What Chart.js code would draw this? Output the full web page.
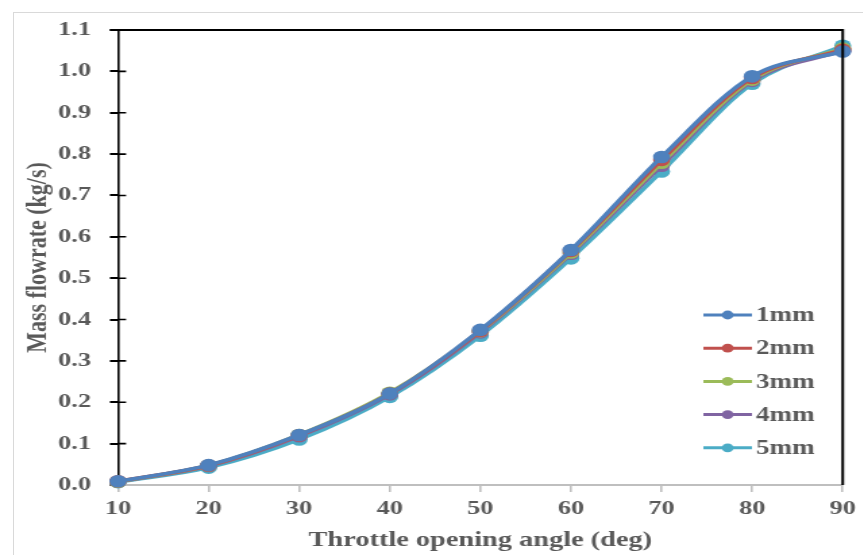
<!DOCTYPE html>
<html><head><meta charset="utf-8">
<script src="https://cdn.jsdelivr.net/npm/chart.js@4/dist/chart.umd.min.js"></script>
<style>
html,body{margin:0;padding:0;background:#fff;}
#wrap{position:relative;width:863px;height:555px;overflow:hidden;}
#frame{position:absolute;left:13px;top:12px;width:870px;height:600px;border:1.5px solid #d9d9d9;box-sizing:border-box;}
#stretch{position:absolute;left:0;top:0;width:639px;height:555px;transform:scaleX(1.35);transform-origin:0 0;}
</style></head>
<body><div id="wrap"><div id="frame"></div><div id="stretch"><canvas id="c" width="639" height="555"></canvas></div></div>
<script>
const angles = [10, 20, 30, 40, 50, 60, 70, 80, 90];
const seriesNames = ['1mm', '2mm', '3mm', '4mm', '5mm'];
const s1mm = [0.009, 0.048, 0.121, 0.221, 0.375, 0.568, 0.793, 0.988, 1.048];
const s2mm = [0.009, 0.047, 0.120, 0.221, 0.373, 0.566, 0.786, 0.984, 1.052];
const s3mm = [0.008, 0.047, 0.121, 0.223, 0.372, 0.562, 0.779, 0.980, 1.055];
const s4mm = [0.008, 0.046, 0.118, 0.219, 0.369, 0.559, 0.772, 0.977, 1.050];
const s5mm = [0.007, 0.042, 0.110, 0.213, 0.361, 0.548, 0.758, 0.970, 1.062];
const colors = ['#4F81BD', '#C0504D', '#9BBB59', '#8064A2', '#4BACC6'];
const yTicks = [0, 0.1, 0.2, 0.3, 0.4, 0.5, 0.6, 0.7, 0.8, 0.9, 1.0, 1.1];

const allSeries = [s1mm, s2mm, s3mm, s4mm, s5mm];
const FONT = '"Liberation Serif", "Times New Roman", serif';

const datasets = allSeries.map((s, i) => ({
  label: seriesNames[i],
  data: angles.map((a, j) => ({x: a, y: s[j]})),
  borderColor: colors[i],
  backgroundColor: colors[i],
  borderWidth: 3.6,
  pointRadius: 6.3,
  pointHoverRadius: 6.3,
  pointBorderWidth: 0,
  tension: 0.4,
  cubicInterpolationMode: 'monotone',
  clip: false
}));

const framePlugin = {
  id: 'frame',
  afterDatasetsDraw(chart) {
    const {ctx, chartArea: a, scales} = chart;
    ctx.save();
    ctx.strokeStyle = '#000';
    ctx.lineWidth = 2;
    ctx.beginPath();
    ctx.moveTo(a.left - 6, a.top); ctx.lineTo(a.right, a.top);
    ctx.lineTo(a.right, a.bottom);
    ctx.stroke();
    ctx.lineWidth = 1.6;
    ctx.beginPath();
    yTicks.forEach(v => {
      const y = scales.y.getPixelForValue(v);
      if (v > 0) { ctx.moveTo(a.left, y); ctx.lineTo(a.left + 6, y); }
    });
    ctx.stroke();
    ctx.restore();
  },
  afterDraw(chart) {
    const {ctx} = chart;
    const lx = 521, lw = 36, ly0 = 315, step = 33.2;
    ctx.save();
    ctx.font = 'bold 20px ' + FONT;
    ctx.textBaseline = 'middle';
    chart.data.datasets.forEach((ds, i) => {
      const y = ly0 + i * step;
      ctx.strokeStyle = ds.borderColor;
      ctx.lineWidth = 3;
      ctx.beginPath(); ctx.moveTo(lx, y); ctx.lineTo(lx + lw, y); ctx.stroke();
      ctx.fillStyle = ds.borderColor;
      ctx.beginPath(); ctx.arc(lx + lw / 2, y, 4.4, 0, Math.PI * 2); ctx.fill();
      ctx.fillStyle = '#595959';
      ctx.fillText(ds.label, lx + lw + 3, y + 1);
    });
    ctx.restore();
  }
};

new Chart(document.getElementById('c'), {
  type: 'line',
  data: {datasets},
  options: {
    responsive: false,
    animation: false,
    events: [],
    layout: {padding: {left: 0, top: 30, right: 13, bottom: 0}},
    plugins: {legend: {display: false}, tooltip: {enabled: false}},
    scales: {
      x: {
        type: 'linear', min: 10, max: 90,
        afterBuildTicks: s => { s.ticks = angles.map(v => ({value: v})); },
        afterFit: s => { s.height = 70; },
        grid: {drawOnChartArea: false, drawTicks: true, tickLength: 7, color: '#bfbfbf', lineWidth: 1.6},
        border: {color: '#bfbfbf', width: 2},
        ticks: {color: '#595959', font: {family: FONT, size: 19.5, weight: 'bold'}, padding: 5, maxRotation: 0},
        title: {display: true, text: 'Throttle opening angle (deg)', color: '#595959',
                font: {family: FONT, size: 21, weight: 'bold'}, padding: {top: 0, bottom: 2}}
      },
      y: {
        type: 'linear', min: 0, max: 1.1,
        afterBuildTicks: s => { s.ticks = yTicks.map(v => ({value: v})); },
        afterFit: s => { s.width = 87.4; },
        grid: {drawOnChartArea: false, drawTicks: true, tickLength: 6, color: '#000', lineWidth: 2},
        border: {color: '#000', width: 1.6},
        ticks: {color: '#595959', font: {family: FONT, size: 19.5, weight: 'bold'}, padding: 14,
                callback: v => v.toFixed(1)},
        title: {display: true, text: 'Mass flowrate (kg/s)', color: '#595959',
                font: {family: FONT, size: 22, weight: 'bold'}, padding: {top: 15, bottom: 0}}
      }
    }
  },
  plugins: [framePlugin]
});
</script></body></html>
